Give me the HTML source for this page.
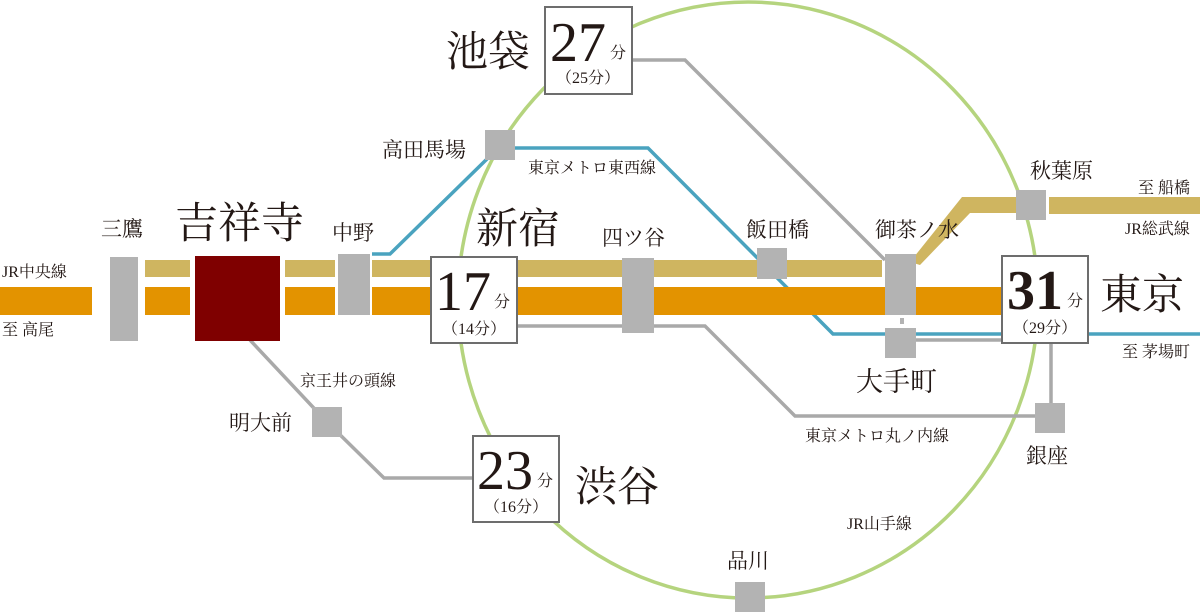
<!DOCTYPE html>
<html><head><meta charset="utf-8"><style>
html,body{margin:0;padding:0;background:#fff}
svg{display:block}
text{font-family:"Liberation Serif","Noto Serif CJK SC",serif;fill:#231815}
</style></head><body>
<svg width="1200" height="612" viewBox="0 0 1200 612" xmlns="http://www.w3.org/2000/svg">
<ellipse cx="748" cy="300" rx="290" ry="298" fill="none" stroke="#b5d47e" stroke-width="3.5"/>
<g fill="none" stroke="#a9a9a9" stroke-width="3.5">
<polyline points="633,60 685,60 885,260"/>
<polyline points="517,326 705,326 795,416 1035,416"/>
<line x1="916" y1="340" x2="1002" y2="340"/>
<line x1="1051" y1="343" x2="1051" y2="403"/>
<polyline points="250,340 325,420 384,478 473,478"/>
</g>
<g fill="none" stroke="#4aa3bf" stroke-width="3.5">
<polyline points="372,254 390,254 488,158"/>
<polyline points="515,148 648,148 833,334 1200,334"/>
</g>
<rect x="0" y="287" width="92" height="28" fill="#e39300"/>
<rect x="145" y="287" width="45" height="28" fill="#e39300"/>
<rect x="285" y="287" width="50" height="28" fill="#e39300"/>
<rect x="372" y="287" width="630" height="28" fill="#e39300"/>
<rect x="145" y="260" width="45" height="17" fill="#cfb560"/>
<rect x="285" y="260" width="50" height="17" fill="#cfb560"/>
<rect x="372" y="260" width="510" height="17" fill="#cfb560"/>
<polygon points="910,262 962,197 1016,197 1016,213 970,213 920,265" fill="#cfb560"/>
<rect x="1049" y="197" width="151" height="17" fill="#cfb560"/>
<g fill="#b3b3b3">
<rect x="110" y="257" width="28" height="84"/>
<rect x="338" y="254" width="32" height="61"/>
<rect x="622" y="258" width="32" height="75"/>
<rect x="757" y="248" width="30" height="31"/>
<rect x="885" y="254" width="31" height="61"/>
<rect x="900" y="318" width="4" height="6"/>
<rect x="885" y="328" width="31" height="30"/>
<rect x="1016" y="190" width="30" height="30"/>
<rect x="1035" y="403" width="30" height="30"/>
<rect x="485" y="130" width="30" height="30"/>
<rect x="312" y="407" width="30" height="30"/>
<rect x="735" y="582" width="30" height="30"/>
</g>
<rect x="195" y="256" width="85" height="85" fill="#7f0000"/>
<g fill="#fff" stroke="#6d6d6d" stroke-width="2">
<rect x="431" y="257" width="86" height="86"/>
<rect x="1002" y="256" width="86" height="87"/>
<rect x="545" y="7" width="87" height="87"/>
<rect x="473" y="436" width="86" height="86"/>
</g>
<g>
<text x="435" y="310" font-size="56">17</text><text x="494" y="307" font-size="16">分</text><text x="474" y="334" font-size="16" text-anchor="middle">（14分）</text>
<text x="1007" y="309" font-size="56" font-weight="bold">31</text><text x="1067" y="306" font-size="16">分</text><text x="1045" y="333" font-size="16" text-anchor="middle">（29分）</text>
<text x="550" y="61" font-size="56">27</text><text x="610" y="58" font-size="16">分</text><text x="588" y="83" font-size="16" text-anchor="middle">（25分）</text>
<text x="477" y="489" font-size="56">23</text><text x="537" y="486" font-size="16">分</text><text x="516" y="512" font-size="16" text-anchor="middle">（16分）</text>
</g>
<text x="175" y="238" font-size="43">吉祥寺</text>
<text x="476" y="243" font-size="42">新宿</text>
<text x="1100" y="309" font-size="42">東京</text>
<text x="446" y="66" font-size="42">池袋</text>
<text x="575" y="501" font-size="42">渋谷</text>
<g font-size="21">
<text x="101" y="236">三鷹</text>
<text x="332" y="240">中野</text>
<text x="602" y="245">四ツ谷</text>
<text x="746" y="237">飯田橋</text>
<text x="875" y="237">御茶ノ水</text>
<text x="1030" y="178">秋葉原</text>
<text x="382" y="157">高田馬場</text>
<text x="229" y="430">明大前</text>
<text x="727" y="568">品川</text>
<text x="1026" y="463">銀座</text>
</g>
<text x="856" y="391" font-size="27">大手町</text>
<g font-size="16">
<text x="2" y="277">JR中央線</text>
<text x="2" y="335">至 高尾</text>
<text x="528" y="173">東京メトロ東西線</text>
<text x="300" y="386">京王井の頭線</text>
<text x="805" y="441">東京メトロ丸ノ内線</text>
<text x="1138" y="193">至 船橋</text>
<text x="1125" y="234">JR総武線</text>
<text x="1122" y="357">至 茅場町</text>
<text x="847" y="529">JR山手線</text>
</g>
</svg>
</body></html>
